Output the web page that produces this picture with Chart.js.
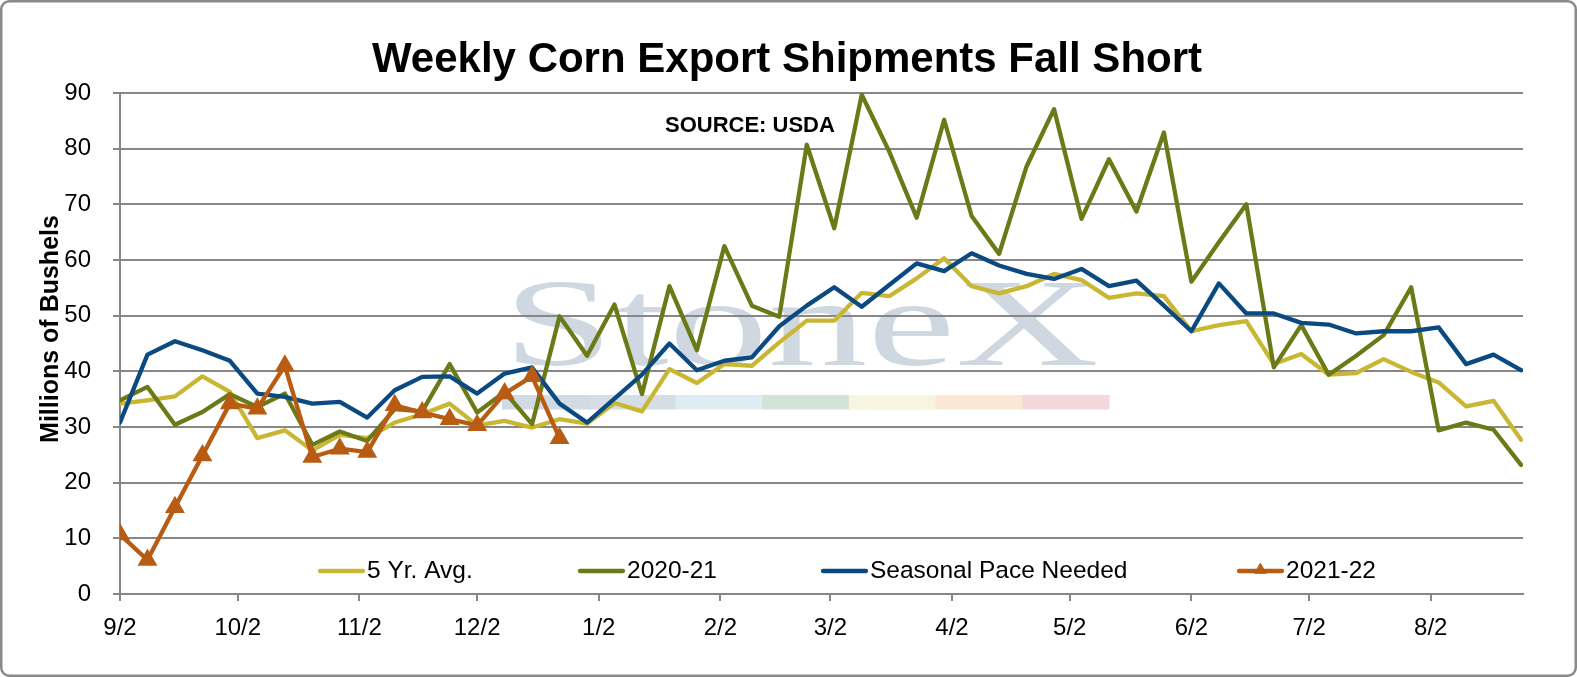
<!DOCTYPE html>
<html><head><meta charset="utf-8">
<script src="https://cdn.jsdelivr.net/npm/chart.js@4.4.1/dist/chart.umd.min.js"></script>
<style>html,body{margin:0;padding:0;background:#fff;overflow:hidden}#wrap{width:1577px;height:677px;position:relative}</style>
</head><body><div id="wrap"><canvas id="c"></canvas></div>
<script>
const weekDates = ['2020-09-02','2020-09-09','2020-09-16','2020-09-23','2020-09-30','2020-10-07','2020-10-14','2020-10-21','2020-10-28','2020-11-04','2020-11-11','2020-11-18','2020-11-25','2020-12-02','2020-12-09','2020-12-16','2020-12-23','2020-12-30','2021-01-06','2021-01-13','2021-01-20','2021-01-27','2021-02-03','2021-02-10','2021-02-17','2021-02-24','2021-03-03','2021-03-10','2021-03-17','2021-03-24','2021-03-31','2021-04-07','2021-04-14','2021-04-21','2021-04-28','2021-05-05','2021-05-12','2021-05-19','2021-05-26','2021-06-02','2021-06-09','2021-06-16','2021-06-23','2021-06-30','2021-07-07','2021-07-14','2021-07-21','2021-07-28','2021-08-04','2021-08-11','2021-08-18','2021-08-25'];
const monthTickDates = ['2020-09-02','2020-10-02','2020-11-02','2020-12-02','2021-01-02','2021-02-02','2021-03-02','2021-04-02','2021-05-02','2021-06-02','2021-07-02','2021-08-02'];
const monthLabels = ['9/2','10/2','11/2','12/2','1/2','2/2','3/2','4/2','5/2','6/2','7/2','8/2'];
const yTicks = [0,10,20,30,40,50,60,70,80,90];

const fiveYrAvg = [34.2,34.8,35.5,39.1,36.3,28.0,29.4,25.8,28.6,28.0,30.8,32.3,34.2,30.3,31.1,29.9,31.4,30.6,34.3,32.8,40.4,37.9,41.3,41.0,45.2,49.1,49.1,54.1,53.5,56.7,60.3,55.3,54.0,55.3,57.5,56.4,53.2,54.0,53.5,47.2,48.3,49.0,41.3,43.1,39.4,39.7,42.2,39.9,38.0,33.7,34.7,27.7];
const season2020 = [34.8,37.2,30.4,32.7,35.9,33.6,36.0,26.8,29.2,27.5,33.2,32.8,41.3,32.6,36.3,30.5,49.9,42.8,52.0,35.9,55.3,43.8,62.5,51.8,49.8,80.7,65.7,89.7,79.5,67.6,85.2,67.9,61.1,76.8,87.1,67.4,78.1,68.7,82.9,56.1,63.2,70.0,40.7,48.3,39.4,42.8,46.5,55.1,29.4,30.8,29.5,23.2];
const seasonalPace = [30.8,43.0,45.4,43.8,41.9,36.0,35.4,34.2,34.5,31.7,36.6,39.0,39.1,36.0,39.6,40.7,34.2,30.8,35.1,39.4,45.0,40.2,41.9,42.5,48.1,51.8,55.1,51.6,55.5,59.4,58.0,61.2,59.0,57.5,56.6,58.4,55.3,56.3,51.8,47.2,55.8,50.4,50.4,48.7,48.4,46.8,47.2,47.2,47.9,41.3,43.0,40.2];
const season2021 = [10.7,6.1,15.6,24.9,34.2,33.3,41.0,24.6,26.1,25.5,33.9,32.6,31.4,30.3,36.0,39.1,28.0];

const seriesNames = ['5 Yr. Avg.','2020-21','Seasonal Pace Needed','2021-22'];
const seriesColors = ['#c9b632','#6b7a17','#0b4a80','#b85c14'];
const titleText = 'Weekly Corn Export Shipments Fall Short';
const yTitleText = 'Millions of Bushels';
const sourceText = 'SOURCE: USDA';
const watermarkText = 'StoneX';
const stripColors = ['#d2dae3','#d5dde6','#e0ecf4','#d4e3d8','#f7f5df','#fbe8d3','#f3d7da'];

const FONT = "'Liberation Sans', Arial, sans-serif";
Chart.defaults.font.family = FONT;
Chart.defaults.color = '#000';

const DAY = 86400000;
const t0 = Date.parse(weekDates[0]);
const dayOf = s => Math.round((Date.parse(s) - t0) / DAY);
const toPoints = arr => arr.map((v, i) => ({x: dayOf(weekDates[i]), y: v}));
const monthTickValues = monthTickDates.map(dayOf);
const GRID = '#878787';

const mk = (i, arr, extra) => Object.assign({
  label: seriesNames[i], data: toPoints(arr), borderColor: seriesColors[i], backgroundColor: seriesColors[i],
  borderWidth: 4.3, pointRadius: 0, tension: 0, fill: false, order: 4 - i, borderJoinStyle: 'round', borderCapStyle: 'round'
}, extra || {});

const legendStarts = [320, 580, 823, 1239];

const decor = {
  id: 'decor',
  beforeDraw(chart) {
    const ctx = chart.ctx;
    ctx.save();
    ctx.font = "125px 'Liberation Serif', 'Times New Roman', serif";
    const w = ctx.measureText(watermarkText).width;
    ctx.translate(503, 365);
    ctx.scale(596 / w, 1);
    ctx.fillStyle = '#cfd8e1';
    ctx.textBaseline = 'alphabetic';
    ctx.fillText(watermarkText, 0, 0);
    ctx.restore();
    ctx.save();
    const x0 = 502, x1 = 1109, segW = (x1 - x0) / stripColors.length;
    stripColors.forEach((c, k) => { ctx.fillStyle = c; ctx.fillRect(x0 + k * segW, 395, segW + 0.5, 14.5); });
    ctx.restore();
  },
  afterDraw(chart) {
    const ctx = chart.ctx;
    // title
    ctx.save();
    ctx.font = "bold 42px " + FONT;
    ctx.fillStyle = '#000'; ctx.textAlign = 'center'; ctx.textBaseline = 'alphabetic';
    ctx.fillText(titleText, 787, 72);
    ctx.restore();
    // y axis title
    ctx.save();
    ctx.font = "bold 25px " + FONT;
    ctx.fillStyle = '#000';
    ctx.textAlign = 'center'; ctx.textBaseline = 'middle';
    ctx.translate(51, 329); ctx.rotate(-Math.PI / 2);
    ctx.fillText(yTitleText, 0, 0);
    ctx.restore();
    // source note
    ctx.save();
    ctx.font = "bold 22px " + FONT;
    ctx.fillStyle = '#000'; ctx.textAlign = 'left'; ctx.textBaseline = 'middle';
    ctx.fillText(sourceText, 665, 126);
    ctx.restore();
    // legend
    ctx.save();
    ctx.font = "24.5px " + FONT;
    ctx.textBaseline = 'middle'; ctx.textAlign = 'left';
    const y = 571;
    chart.data.datasets.forEach((ds, i) => {
      const x = legendStarts[i];
      ctx.strokeStyle = ds.borderColor; ctx.lineWidth = 4.3; ctx.lineCap = 'round';
      ctx.beginPath(); ctx.moveTo(x, y); ctx.lineTo(x + 43, y); ctx.stroke();
      if (ds.pointStyle === 'triangle') {
        ctx.fillStyle = ds.borderColor; ctx.strokeStyle = ds.borderColor; ctx.lineWidth = 1;
        Chart.helpers.drawPoint(ctx, {pointStyle: 'triangle', radius: 6.5, borderWidth: 1}, x + 21.5, y - 1);
      }
      ctx.fillStyle = '#000';
      ctx.fillText(ds.label, x + 47, y);
    });
    ctx.restore();
    // frame
    ctx.save();
    ctx.strokeStyle = '#8a8a8a'; ctx.lineWidth = 2.5;
    ctx.beginPath();
    if (ctx.roundRect) ctx.roundRect(1.25, 1.25, chart.width - 2.5, chart.height - 2.5, 8);
    else ctx.rect(1.25, 1.25, chart.width - 2.5, chart.height - 2.5);
    ctx.stroke();
    ctx.restore();
  }
};

new Chart(document.getElementById('c'), {
  type: 'line',
  data: {
    datasets: [
      mk(0, fiveYrAvg),
      mk(1, season2020),
      mk(2, seasonalPace),
      mk(3, season2021, {pointStyle: 'triangle', pointRadius: 9.5, pointHoverRadius: 9.5, pointBorderWidth: 2, pointBackgroundColor: seriesColors[3], pointBorderColor: seriesColors[3]})
    ]
  },
  options: {
    responsive: true, maintainAspectRatio: false, animation: false,
    layout: {padding: {left: 0, right: 54, top: 93, bottom: 0}},
    plugins: {
      legend: {display: false},
      tooltip: {enabled: false},
      title: {display: false}
    },
    scales: {
      x: {
        type: 'linear', min: 0, max: dayOf(weekDates[weekDates.length - 1]) + 0.5,
        afterBuildTicks: s => { s.ticks = monthTickValues.map(v => ({value: v})); },
        afterFit: s => { s.height = 83; },
        ticks: {autoSkip: false, maxRotation: 0, minRotation: 0, padding: 13, font: {size: 24}, color: '#000',
          callback: (v, i) => monthLabels[i]},
        grid: {drawOnChartArea: false, drawTicks: true, tickLength: 7, color: GRID, lineWidth: 2},
        border: {display: true, color: GRID, width: 2}
      },
      y: {
        min: 0, max: 90,
        afterBuildTicks: s => { s.ticks = yTicks.map(v => ({value: v})); },
        afterFit: s => { s.width = 120; },
        ticks: {padding: 22, font: {size: 24}, color: '#000'},
        grid: {color: GRID, lineWidth: 2, tickLength: 7, drawTicks: true},
        border: {display: true, color: GRID, width: 2}
      }
    }
  },
  plugins: [decor]
});
</script>
</body></html>
